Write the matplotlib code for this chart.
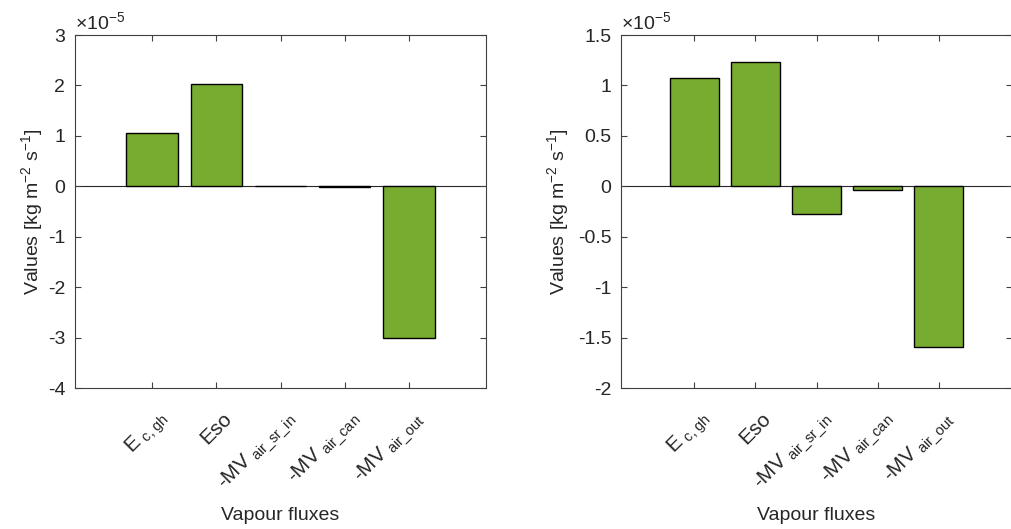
import numpy as np
import matplotlib
matplotlib.use("Agg")
import matplotlib.pyplot as plt
from matplotlib.ticker import FuncFormatter

plt.rcParams["font.family"] = ["Liberation Sans", "DejaVu Sans"]
plt.rcParams["mathtext.default"] = "regular"
plt.rcParams["axes.unicode_minus"] = False

labels = [r"E$_{\ c,gh}$", "Eso", r"-MV$_{\ air\_sr\_in}$",
          r"-MV$_{\ air\_can}$", r"-MV$_{\ air\_out}$"]
left_vals = np.array([1.05, 2.02, -0.003, -0.02, -3.0]) * 1e-5
right_vals = np.array([1.07, 1.23, -0.275, -0.04, -1.59]) * 1e-5

left_ylim = (-4e-5, 3e-5)
left_yticks = np.arange(-4, 4, 1) * 1e-5
right_ylim = (-2e-5, 1.5e-5)
right_yticks = np.arange(-2, 2, 0.5) * 1e-5

bar_color = "#77AC30"
axis_color = "#404040"
text_color = "#262626"
fs = 14

W, H = 1011, 529
fig = plt.figure(figsize=(W / 100, H / 100), dpi=100)
ax1 = fig.add_axes([75 / W, 1 - 388 / H, 411 / W, 353 / H])
ax2 = fig.add_axes([621 / W, 1 - 388 / H, 391 / W, 353 / H])


def draw(ax, vals, ylim, yticks, ypad):
    x = np.arange(1, len(vals) + 1)
    ax.bar(x, vals, width=0.8, color=bar_color, edgecolor="black", linewidth=1.0, zorder=2)
    ax.axhline(0, color=text_color, lw=0.8, zorder=1)
    ax.set_xlim(-0.2, 6.2)
    ax.set_ylim(*ylim)
    ax.set_yticks(yticks)
    ax.yaxis.set_major_formatter(FuncFormatter(lambda v, p: "%g" % round(v / 1e-5, 6)))
    ax.text(0.0, 1.005, r"$\times$10$^{-5}$", transform=ax.transAxes, ha="left",
            va="bottom", fontsize=fs, color=text_color)
    ax.set_xticks(x)
    ax.set_xticklabels([])
    # rotated category labels, placed like MATLAB's
    for xi, lab in zip(x, labels):
        ax.annotate(lab, xy=(xi, 0), xycoords=("data", "axes fraction"),
                    xytext=(9, -20), textcoords="offset points",
                    rotation=45, ha="right", va="center", rotation_mode="anchor",
                    fontsize=15, color=text_color)
    ax.tick_params(direction="in", top=True, right=True, length=4, width=0.8,
                   color=axis_color, labelsize=fs, labelcolor=text_color)
    ax.tick_params(axis="y", pad=7)
    for s in ax.spines.values():
        s.set_color(axis_color)
        s.set_linewidth(0.8)
    ax.set_xlabel("Vapour fluxes", fontsize=fs, color=text_color)
    ax.xaxis.set_label_coords(0.5, -0.337)
    ax.set_ylabel(r"Values [kg m$^{-2}$ s$^{-1}$]", fontsize=fs, color=text_color,
                  labelpad=ypad)


draw(ax1, left_vals, left_ylim, left_yticks, 2)
draw(ax2, right_vals, right_ylim, right_yticks, 5)

fig.savefig("out.png", dpi=100)
